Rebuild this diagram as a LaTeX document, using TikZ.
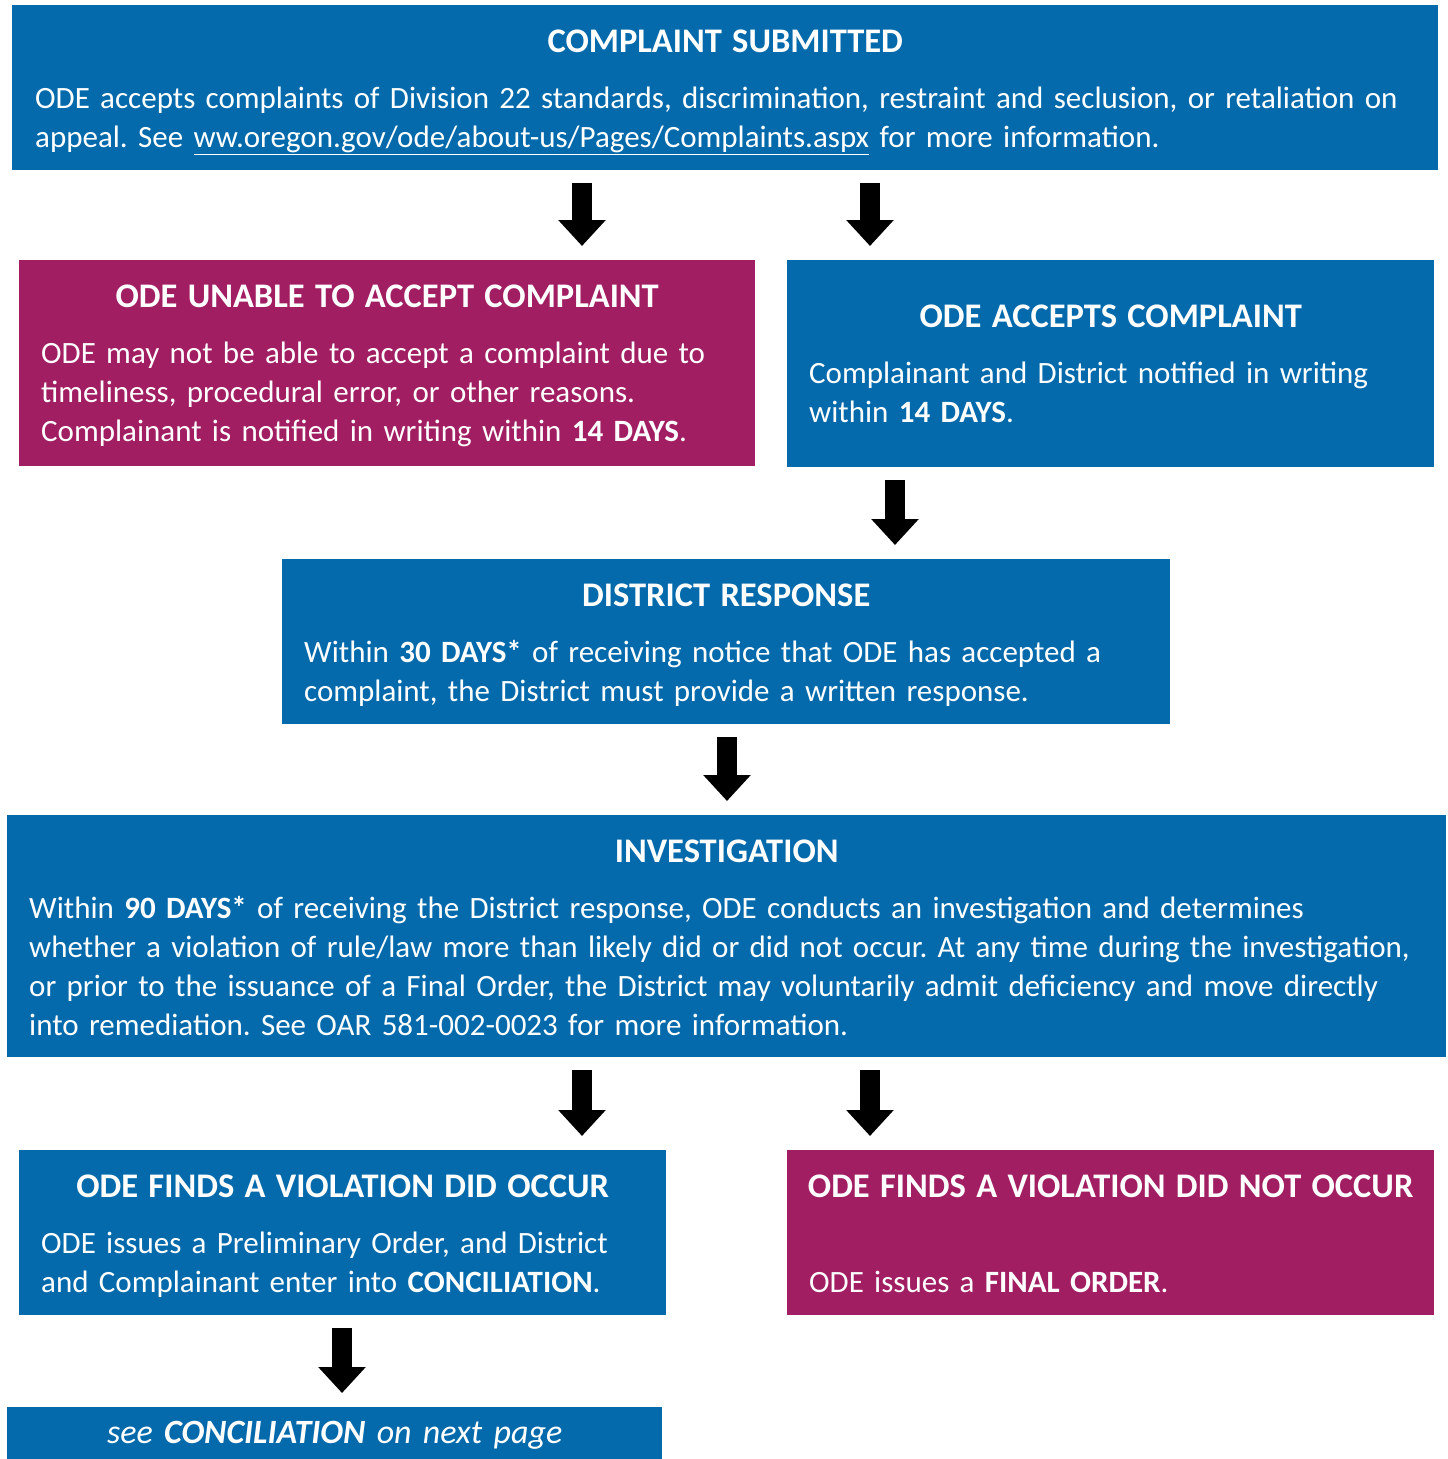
\documentclass[tikz,border=0pt]{standalone}
\usepackage{fontspec}
\setmainfont{Carlito}
\usetikzlibrary{%
	positioning,
	arrows.meta
}
\frenchspacing
\definecolor{odeblue}{RGB}{4,106,172}
\definecolor{odeplum}{RGB}{161,30,98}
\newcommand{\stagetext}[3][22pt]{\centerline{\fontsize{34.5}{39}\bfseries\selectfont #2}\vskip 17pt{\leftskip=#1 #3\par}}

\begin{document}
\begin{tikzpicture}[
		stage/.style={shape=rectangle,anchor=north west,text=white,inner sep=0pt,align=left,text height=47pt,font=\fontsize{31}{39}\selectfont},
		bluestage/.style={stage,fill=odeblue},
		plumstage/.style={stage,fill=odeplum},
		down/.style={-{Triangle[width=46pt,length=26pt]},line width=20pt,shorten <=13pt,shorten >=14pt}
	]
	\useasboundingbox (0,0) rectangle (1448pt,-1459pt);

		\node(submitted)[bluestage,text width=1426pt,text depth=118pt] at (12pt,-5pt) {\stagetext[23pt]{COMPLAINT SUBMITTED}{ODE accepts complaints of Division 22 standards, discrimination, restraint and seclusion, or retaliation on\\ appeal. See \underline{ww.oregon.gov/ode/about-us/Pages/Complaints.aspx} for more information.}};

		\node(unable)[plumstage,text width=736pt,text depth=159pt] at (19pt,-260pt) {\stagetext{ODE UNABLE TO ACCEPT COMPLAINT}{ODE may not be able to accept a complaint due to\\ timeliness, procedural error, or other reasons.\\ Complainant is notified in writing within \textbf{14 DAYS}.}};
		\node(accepts)[bluestage,text width=647pt,text height=67pt,text depth=140pt] at (787pt,-260pt) {\stagetext{ODE ACCEPTS COMPLAINT}{Complainant and District notified in writing\\ within \textbf{14 DAYS}.}};
		\path[down] (submitted.south -| 582pt,0) edge (unable.north -| 582pt,0);
		\path[down] (submitted.south -| 870pt,0) edge (accepts.north -| 870pt,0);

		\node(response)[bluestage,text width=888pt,text depth=118pt] at (282pt,-559pt) {\stagetext{DISTRICT RESPONSE}{Within \textbf{30 DAYS*} of receiving notice that ODE has accepted a\\ complaint, the District must provide a written response.}};
		\path[down] (accepts.south -| 895pt,0) edge (response.north -| 895pt,0);

		\node(investigation)[bluestage,text width=1439pt,text depth=195pt] at (7pt,-815pt) {\stagetext{INVESTIGATION}{Within \textbf{90 DAYS*} of receiving the District response, ODE conducts an investigation and determines\\ whether a violation of rule/law more than likely did or did not occur. At any time during the investigation,\\ or prior to the issuance of a Final Order, the District may voluntarily admit deficiency and move directly\\ into remediation. See OAR 581-002-0023 for more information.}};
		\path[down] (response.south -| 727pt,0) edge (investigation.north -| 727pt,0);

		\node(occurred)[bluestage,text width=647pt,text depth=118pt] at (19pt,-1150pt) {\stagetext{ODE FINDS A VIOLATION DID OCCUR}{ODE issues a Preliminary Order, and District\\ and Complainant enter into \textbf{CONCILIATION}.}};
		\node(notoccurred)[plumstage,text width=647pt,text depth=118pt] at (787pt,-1150pt) {\stagetext{ODE FINDS A VIOLATION DID NOT OCCUR}{\mbox{}\\ ODE issues a \textbf{FINAL ORDER}.}};
		\path[down] (investigation.south -| 582pt,0) edge (occurred.north -| 582pt,0);
		\path[down] (investigation.south -| 870pt,0) edge (notoccurred.north -| 870pt,0);

		\node(nextpage)[bluestage,text width=655pt,text height=36pt,text depth=16pt,align=center,font=\fontsize{34}{39}\selectfont] at (7pt,-1407pt) {\itshape see \textbf{CONCILIATION} on next page};
		\path[down] (occurred.south -| 342pt,0) edge (nextpage.north -| 342pt,0);

\end{tikzpicture}
\end{document}
